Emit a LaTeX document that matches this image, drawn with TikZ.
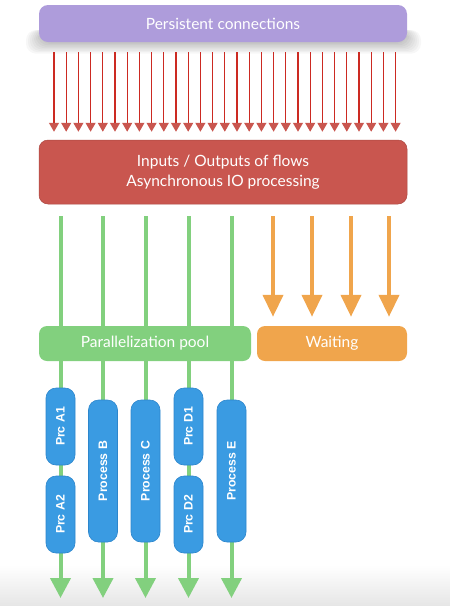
\documentclass[tikz,border=0pt]{standalone}
\usepackage{fontspec}
\setmainfont{Lato}
\newfontfamily\procfont{Liberation Sans}
\usetikzlibrary{arrows.meta,backgrounds}
\definecolor{cpurple}{HTML}{AE9CDB}
\definecolor{cred}{HTML}{C9564F}
\definecolor{credline}{HTML}{CC2A22}
\definecolor{cgreen}{HTML}{82D07E}
\definecolor{corange}{HTML}{F0A54C}
\definecolor{cblue}{HTML}{3A9BE2}
\definecolor{cblueedge}{HTML}{2D86CC}
\tikzset{
  bigbox/.style={rounded corners=9pt, text=white, align=center, font=\fontsize{15.5}{19.5}\selectfont, inner sep=0pt},
  procbox/.style={rounded corners=10pt, fill=cblue, draw=cblueedge, line width=0.6pt, text=white,
    rotate=90, minimum height=29pt, inner sep=0pt, font=\procfont\bfseries\fontsize{12.3}{14}\selectfont},
  redarr/.style={credline, line width=1.3pt, -{Triangle[width=10pt,length=9pt,color=cred]}},
  gline/.style={cgreen, line width=4pt},
  garr/.style={cgreen, line width=4pt, -{Triangle[width=20pt,length=20pt]}},
  oarr/.style={corange, line width=4pt, -{Triangle[width=20pt,length=22pt]}}
}
\begin{document}
\begin{tikzpicture}[x=1pt,y=-1pt]
\useasboundingbox (0,0) rectangle (450,606);

\node[bigbox, fill=cpurple, minimum width=368pt, minimum height=37pt] (pc) at (223,23.5) {Persistent connections};
\node[bigbox, fill=cred, draw=cred!85!black, line width=0.5pt, minimum width=368pt, minimum height=64pt] (io) at (223,172)
  {Inputs / Outputs of flows\\Asynchronous IO processing};
\node[bigbox, rounded corners=8pt, fill=cgreen, minimum width=212pt, minimum height=35pt] (pool) at (145,343.5) {Parallelization pool};
\node[bigbox, rounded corners=8pt, fill=corange, minimum width=150pt, minimum height=35pt] (wait) at (332,343.5) {Waiting};

\node[procbox, minimum width=77pt] (A1) at (60.5,426.5) {Prc A1};
\node[procbox, minimum width=77pt] (A2) at (60.5,514.5) {Prc A2};
\node[procbox, minimum width=142pt] (B) at (103,471) {Process B};
\node[procbox, minimum width=142pt] (C) at (145.5,471) {Process C};
\node[procbox, minimum width=77pt] (D1) at (188.5,426.5) {Prc D1};
\node[procbox, minimum width=77pt] (D2) at (188.5,514.5) {Prc D2};
\node[procbox, minimum width=142pt] (E) at (231.5,471) {Process E};

\coordinate (endA) at (60.5,598);
\coordinate (endB) at (103,598);
\coordinate (endC) at (145.5,598);
\coordinate (endD) at (188.5,598);
\coordinate (endE) at (231.5,598);

% red connection arrows
\foreach \i in {0,...,28}{
  \pgfmathsetmacro{\xx}{54+12.2*\i}
  \draw[redarr, shorten <=10pt, shorten >=8pt] (\xx,0 |- pc.south) -- (\xx,0 |- io.north);
}

\begin{scope}[on background layer]
  % floor reflection gradient
  \shade[top color=white, bottom color=black!10] (0,565) rectangle (450,606);
  % soft shadow under the top box
  \foreach \k in {1,...,9}{
    \fill[black, opacity=0.03, rounded corners=10pt] (44-2*\k,30) rectangle (403+2*\k,41+1.4*\k);
  }
  \draw[gline, shorten <=12pt] (A1 |- io.south) -- (A1 |- pool.center);
  \draw[gline, shorten <=12pt] (B |- io.south) -- (B |- pool.center);
  \draw[gline, shorten <=12pt] (C |- io.south) -- (C |- pool.center);
  \draw[gline, shorten <=12pt] (D1 |- io.south) -- (D1 |- pool.center);
  \draw[gline, shorten <=12pt] (E |- io.south) -- (E |- pool.center);
  \draw[garr] (A1 |- pool.center) -- (A1.center) -- (A2.center) -- (endA);
  \draw[garr] (B |- pool.center) -- (B.center) -- (endB);
  \draw[garr] (C |- pool.center) -- (C.center) -- (endC);
  \draw[garr] (D1 |- pool.center) -- (D1.center) -- (D2.center) -- (endD);
  \draw[garr] (E |- pool.center) -- (E.center) -- (endE);
\end{scope}

\foreach \xx in {273,312,351,389}{
  \draw[oarr, shorten <=12pt, shorten >=9pt] (\xx,0 |- io.south) -- (\xx,0 |- wait.north);
}
\end{tikzpicture}
\end{document}
